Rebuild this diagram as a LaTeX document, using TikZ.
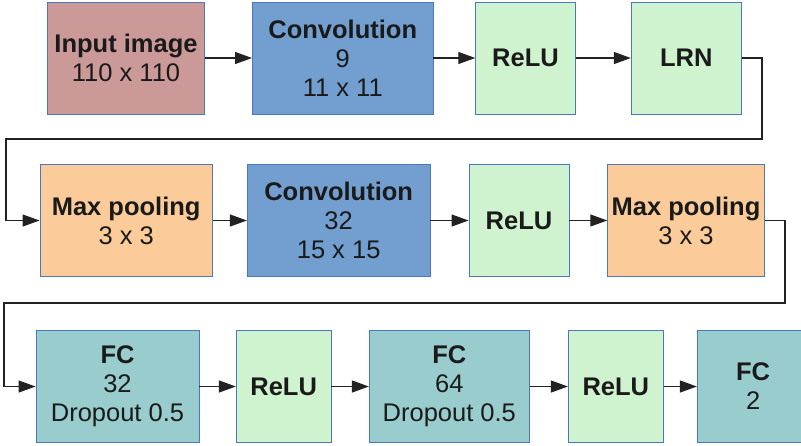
\documentclass[tikz,border=0pt]{standalone}
\usepackage{fontspec}
\setmainfont{Liberation Sans}
\usetikzlibrary{arrows.meta}
\definecolor{cinput}{HTML}{CC9999}
\definecolor{cconv}{HTML}{729FCF}
\definecolor{crelu}{HTML}{CFF3CF}
\definecolor{cpool}{HTML}{FBCC9A}
\definecolor{cfc}{HTML}{99CCCC}
\definecolor{cborder}{HTML}{4A78C0}
\definecolor{ctext}{HTML}{1A1A1A}
\definecolor{cline}{HTML}{222222}
\tikzset{
  blk/.style={draw=cborder, line width=0.9pt, inner sep=0pt, align=center,
    text=ctext, font=\fontsize{25.5}{29}\selectfont},
  inp/.style={blk, fill=cinput},
  conv/.style={blk, fill=cconv},
  relu/.style={blk, fill=crelu},
  pool/.style={blk, fill=cpool},
  fc/.style={blk, fill=cfc},
  arr/.style={draw=cline, line width=1.2pt, -{Triangle[length=17pt,width=12pt]}},
}
\begin{document}
\begin{tikzpicture}[x=1pt,y=-1pt]
\useasboundingbox (0,0) rectangle (801,445);
\clip (0,0) rectangle (801,445);
% row 1
\node[inp, minimum width=157pt, minimum height=112pt] (in) at (126,58) {\textbf{Input image}\\110 x 110};
\node[conv, minimum width=180.5pt, minimum height=112pt] (c1) at (342.75,58) {\textbf{Convolution}\\9\\11 x 11};
\node[relu, minimum width=99.6pt, minimum height=112pt] (r1) at (525.5,58) {\textbf{ReLU}};
\node[relu, minimum width=110pt, minimum height=112pt] (lrn) at (686.3,58) {\textbf{LRN}};
% row 2
\node[pool, minimum width=172.3pt, minimum height=112.4pt] (p1) at (126.15,220.5) {\textbf{Max pooling}\\3 x 3};
\node[conv, minimum width=182.7pt, minimum height=112.4pt] (c2) at (338.65,220.5) {\textbf{Convolution}\\32\\15 x 15};
\node[relu, minimum width=100pt, minimum height=112.4pt] (r2) at (519,220.5) {\textbf{ReLU}};
\node[pool, minimum width=156.6pt, minimum height=112.4pt] (p2) at (686,220.5) {\textbf{Max pooling}\\3 x 3};
% row 3
\node[fc, minimum width=163pt, minimum height=112.4pt] (f1) at (117.5,386.5) {\textbf{FC}\\32\\Dropout 0.5};
\node[relu, minimum width=94.7pt, minimum height=112.4pt] (r3) at (283.65,386.5) {\textbf{ReLU}};
\node[fc, minimum width=160pt, minimum height=112.4pt] (f2) at (449.3,386.5) {\textbf{FC}\\64\\Dropout 0.5};
\node[relu, minimum width=95pt, minimum height=112.4pt] (r4) at (615.8,386.5) {\textbf{ReLU}};
\node[fc, minimum width=111.7pt, minimum height=112.4pt] (f3) at (753.15,386.5) {\textbf{FC}\\2};
% connectors
\draw[arr] (in) -- (c1);
\draw[arr] (c1) -- (r1);
\draw[arr] (r1) -- (lrn);
\draw[arr] (lrn.east) -- (762,58) -- (762,139) -- (6,139) -- (6,220.5) -- (p1.west);
\draw[arr] (p1) -- (c2);
\draw[arr] (c2) -- (r2);
\draw[arr] (r2) -- (p2);
\draw[arr] (p2.east) -- (785,220.5) -- (785,303) -- (4,303) -- (4,386.5) -- (f1.west);
\draw[arr] (f1) -- (r3);
\draw[arr] (r3) -- (f2);
\draw[arr] (f2) -- (r4);
\draw[arr] (r4) -- (f3);
\end{tikzpicture}
\end{document}
